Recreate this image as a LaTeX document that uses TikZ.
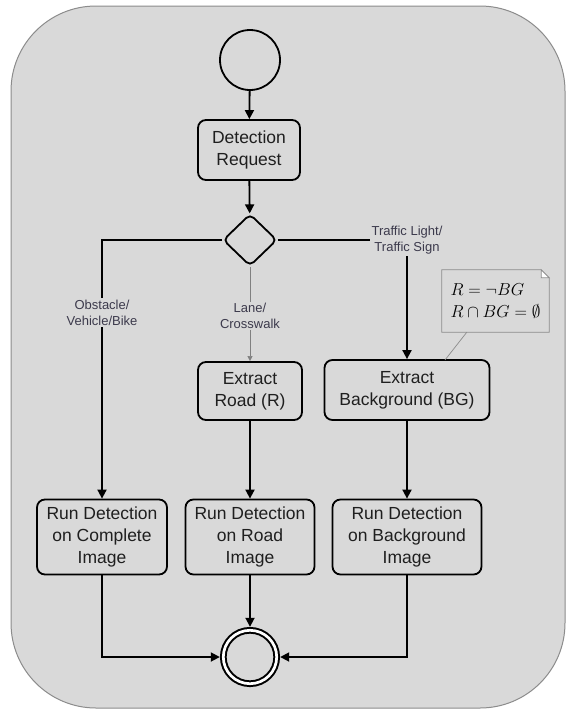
\documentclass[tikz,border=0pt]{standalone}
\usepackage{fontspec}
\setmainfont{Liberation Sans}
\usetikzlibrary{shapes.geometric,arrows.meta}
\definecolor{panel}{HTML}{D9D9D9}
\definecolor{panelline}{HTML}{8C8C8C}
\definecolor{labeltext}{HTML}{3C3A4C}

\begin{document}
\begin{tikzpicture}[x=1pt,y=-1pt,
  act/.style={draw,line width=1.8pt,rounded corners=8pt,fill=panel,align=center,inner sep=0pt,text=black!88,font=\fontsize{17.5}{21.7}\selectfont},
  flow/.style={line width=1.8pt,-{Triangle[length=9pt,width=9pt]}},
  guard/.style={fill=panel,text=labeltext,align=center,inner sep=1.5pt,font=\fontsize{13}{16}\selectfont}]
 \useasboundingbox (0,0) rectangle (566,710);
 \draw[panelline,fill=panel,line width=1pt,rounded corners=85pt] (11,6) rectangle (565,708);

 \node[draw,circle,line width=1.8pt,minimum size=60pt,inner sep=0pt] (start) at (250,60) {};
 \node[act,minimum width=102pt,minimum height=60pt] (req) at (249,150) {Detection\\Request};
 \node[diamond,draw,line width=1.8pt,rounded corners=5pt,minimum width=54pt,minimum height=52pt,inner sep=0pt] (choice) at (250,240) {};
 \node[act,minimum width=104pt,minimum height=58pt] (road) at (250,391) {Extract\\Road (R)};
 \node[act,minimum width=165pt,minimum height=60pt] (bg) at (407,390) {Extract\\Background (BG)};
 \node[act,minimum width=130pt,minimum height=75pt] (runall) at (102,537) {Run Detection\\on Complete\\Image};
 \node[act,minimum width=129pt,minimum height=75pt] (runroad) at (250,537) {Run Detection\\on Road\\Image};
 \node[act,minimum width=149pt,minimum height=75pt] (runbg) at (407,537) {Run Detection\\on Background\\Image};
 \node[circle,draw,line width=2pt,double,double distance=2.7pt,minimum size=53.4pt,inner sep=0pt,outer sep=3.5pt] (stop) at (250,657) {};

 \node[minimum width=107pt,minimum height=62pt,inner sep=0pt,align=left,font=\fontsize{17}{22}\selectfont] (note) at (495.5,301) {$R = \neg BG$\\$R\cap BG = \emptyset$};
 \draw[panelline,line width=0.8pt] (note.north west) -- ([xshift=-8pt]note.north east) -- ([yshift=-8pt]note.north east) -- (note.south east) -- (note.south west) -- cycle;
 \draw[panelline,fill=white,line width=0.8pt] ([xshift=-8pt]note.north east) -- ([yshift=-8pt]note.north east) -- ([xshift=-8pt,yshift=-8pt]note.north east) -- cycle;
 \coordinate (bgtop) at (445,360);
 \draw[panelline,line width=0.7pt] ([xshift=25pt]note.south west) -- (bgtop);

 \draw[flow] (start) -- (req);
 \draw[flow] (req) -- (choice);
 \draw[flow] (choice.west) -| node[guard,pos=0.64] {Obstacle/\\Vehicle/Bike} (runall.north);
 \draw[gray,line width=0.6pt,-{Triangle[length=5pt,width=5pt]}] (choice.south) -- node[guard,pos=0.52] {Lane/\\Crosswalk} (road.north);
 \draw[flow] (choice.east) -| node[guard,pos=0.5] {Traffic Light/\\Traffic Sign} (bg.north);
 \draw[flow] (road) -- (runroad);
 \draw[flow] (bg) -- (runbg);
 \draw[flow] (runroad) -- (stop);
 \draw[flow] (runall.south) |- (stop.west);
 \draw[flow] (runbg.south) |- (stop.east);
\end{tikzpicture}
\end{document}
